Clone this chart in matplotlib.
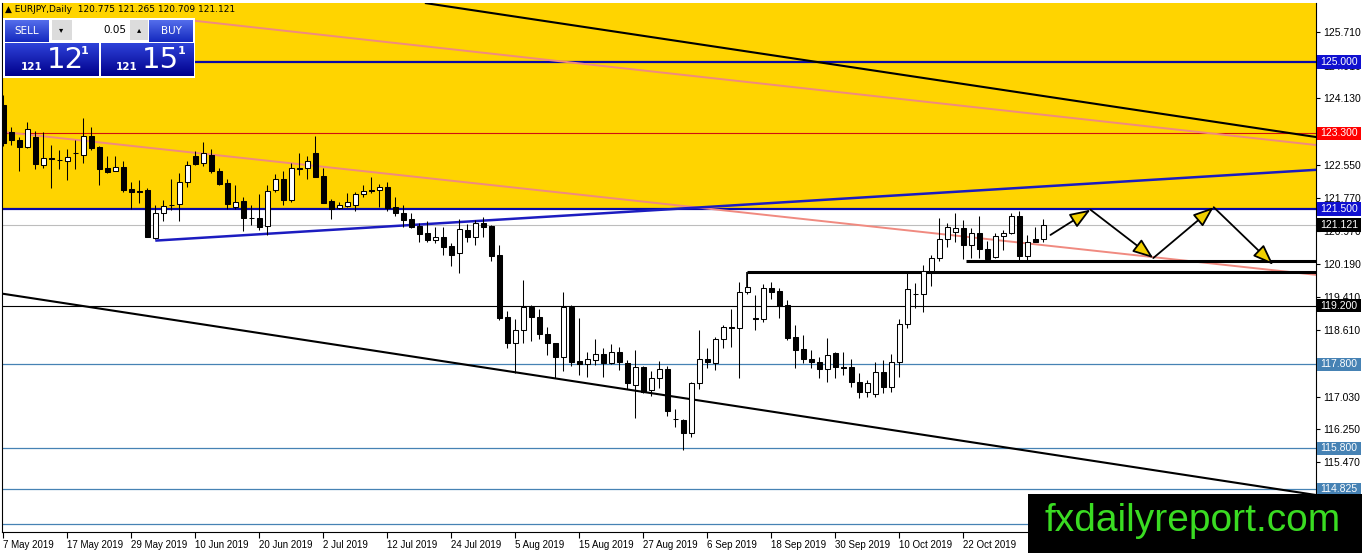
import numpy as np
import matplotlib
matplotlib.use("Agg")
import matplotlib.pyplot as plt
import matplotlib.transforms as mtransforms
from matplotlib.patches import Rectangle, FancyArrowPatch

W, H = 1362, 553

# daily candles, EURJPY, from 7 May 2019 (one entry per trading day)
opens = [123.98, 123.32, 123.14, 122.98, 123.22, 122.55, 122.70, 122.67, 122.65, 122.82,
         122.79, 123.24, 122.98, 122.47, 122.41, 122.49, 121.98, 121.92, 121.94, 120.80,
         121.40, 121.60, 121.61, 122.13, 122.76, 122.59, 122.78, 122.40, 122.11, 121.54,
         121.69, 121.29, 121.28, 121.10, 121.94, 122.21, 121.71, 122.47, 122.47, 122.83,
         122.29, 121.68, 121.51, 121.58, 121.60, 121.85, 121.94, 121.94, 122.02, 121.54,
         121.40, 121.25, 121.10, 120.92, 120.76, 120.83, 120.62, 120.44, 121.00, 120.83,
         121.16, 121.10, 120.40, 118.92, 118.30, 118.62, 119.17, 118.92, 118.52, 118.30,
         117.98, 119.17, 117.88, 117.81, 117.90, 118.04, 117.83, 118.10, 117.84, 117.31,
         117.73, 117.19, 117.47, 117.68, 116.50, 116.48, 116.17, 117.35, 117.92, 117.83,
         118.40, 118.68, 118.66, 119.52, 118.90, 118.87, 119.61, 119.55, 119.21, 118.46,
         118.16, 117.93, 117.85, 117.68, 118.06, 117.73, 117.73, 117.37, 117.14, 117.09,
         117.61, 117.27, 117.85, 118.75, 119.48, 119.47, 120.01, 120.33, 120.78, 120.94,
         121.04, 120.63, 120.92, 120.55, 120.35, 120.86, 120.92, 121.34, 120.39, 120.79,
         120.775]
highs = [124.20, 123.46, 123.22, 123.56, 123.36, 123.34, 123.02, 122.90, 122.92, 123.13,
         123.66, 123.46, 122.99, 122.76, 122.75, 122.65, 122.13, 122.19, 121.99, 121.60,
         121.71, 122.21, 122.35, 122.65, 122.87, 123.10, 122.92, 122.48, 122.21, 122.07,
         121.79, 121.59, 121.86, 122.07, 122.33, 122.39, 122.59, 122.83, 122.75, 123.24,
         122.47, 121.73, 121.67, 121.87, 121.91, 122.07, 122.25, 122.09, 122.15, 121.79,
         121.60, 121.41, 121.16, 121.20, 121.08, 121.06, 120.68, 121.25, 121.14, 121.24,
         121.30, 121.12, 120.64, 119.06, 118.87, 119.81, 119.21, 119.11, 118.68, 118.32,
         119.53, 119.21, 118.90, 118.10, 118.40, 118.20, 118.29, 118.22, 117.90, 118.14,
         117.76, 117.63, 117.89, 117.76, 116.73, 116.49, 117.39, 118.62, 118.20, 118.46,
         118.74, 119.12, 119.75, 119.97, 119.44, 119.71, 119.75, 119.61, 119.33, 118.74,
         118.50, 118.14, 117.98, 118.42, 118.10, 118.10, 117.93, 117.59, 117.43, 117.85,
         117.90, 118.04, 118.88, 119.97, 119.73, 120.17, 120.40, 121.28, 121.16, 121.40,
         121.24, 121.04, 121.32, 120.74, 120.92, 121.00, 121.40, 121.44, 120.88, 121.06,
         121.265]
lows = [123.00, 123.02, 122.41, 122.94, 122.44, 122.47, 121.99, 122.44, 122.19, 122.44,
        122.60, 122.90, 122.07, 122.35, 122.39, 121.91, 121.49, 121.63, 120.83, 120.78,
        121.22, 121.48, 121.20, 122.03, 122.55, 122.52, 122.35, 122.06, 121.49, 121.49,
        120.98, 121.12, 121.00, 120.88, 121.89, 121.59, 121.67, 122.31, 122.21, 122.26,
        121.63, 121.25, 121.49, 121.54, 121.44, 121.78, 121.87, 121.54, 121.44, 121.33,
        121.06, 121.04, 120.70, 120.70, 120.68, 120.40, 120.13, 119.97, 120.72, 120.64,
        120.83, 120.27, 118.86, 118.18, 117.59, 118.30, 118.36, 118.40, 118.02, 117.47,
        117.63, 117.75, 117.55, 117.51, 117.79, 117.51, 117.81, 117.67, 117.21, 116.52,
        117.11, 117.05, 117.23, 116.56, 116.30, 115.76, 116.06, 117.21, 117.71, 117.67,
        118.20, 118.22, 117.48, 119.47, 118.62, 118.80, 119.35, 118.90, 118.38, 117.71,
        117.83, 117.72, 117.47, 117.39, 117.47, 117.55, 117.27, 117.01, 117.03, 117.03,
        117.11, 117.15, 117.51, 118.66, 119.13, 119.05, 119.67, 120.26, 120.60, 120.72,
        120.31, 120.32, 120.32, 120.26, 120.33, 120.52, 120.90, 120.25, 120.29, 120.70,
        120.709]
closes = [123.07, 123.13, 122.98, 123.40, 122.57, 122.71, 122.69, 122.66, 122.73, 122.83,
          123.24, 122.94, 122.45, 122.38, 122.49, 121.95, 121.90, 121.91, 120.84, 121.40,
          121.58, 121.59, 122.13, 122.54, 122.57, 122.83, 122.39, 122.09, 121.61, 121.67,
          121.29, 121.28, 121.08, 121.93, 122.21, 121.71, 122.47, 122.46, 122.63, 122.27,
          121.65, 121.49, 121.59, 121.67, 121.86, 121.93, 121.93, 122.02, 121.52, 121.40,
          121.24, 121.08, 120.90, 120.76, 120.83, 120.60, 120.40, 121.02, 120.83, 121.17,
          121.08, 120.38, 118.90, 118.32, 118.62, 119.16, 118.92, 118.52, 118.32, 117.98,
          119.17, 117.86, 117.81, 117.93, 118.04, 117.83, 118.10, 117.86, 117.36, 117.73,
          117.15, 117.47, 117.68, 116.70, 116.49, 116.17, 117.35, 117.92, 117.85, 118.40,
          118.68, 118.67, 119.52, 119.63, 118.89, 119.61, 119.53, 119.19, 118.42, 118.14,
          117.92, 117.85, 117.68, 118.02, 117.73, 117.72, 117.37, 117.14, 117.35, 117.61,
          117.27, 117.85, 118.75, 119.59, 119.47, 120.01, 120.33, 120.78, 121.06, 121.04,
          120.63, 120.92, 120.55, 120.31, 120.86, 120.92, 121.34, 120.39, 120.71, 120.72,
          121.121]

date_labels = ["7 May 2019", "17 May 2019", "29 May 2019", "10 Jun 2019", "20 Jun 2019",
               "2 Jul 2019", "12 Jul 2019", "24 Jul 2019", "5 Aug 2019", "15 Aug 2019",
               "27 Aug 2019", "6 Sep 2019", "18 Sep 2019", "30 Sep 2019", "10 Oct 2019",
               "22 Oct 2019"]
# scale ticks that are not hidden behind the level labels
price_ticks = [125.710, 124.910, 124.130, 122.550, 121.770, 120.970, 120.190,
               119.410, 118.610, 117.030, 116.250, 115.470]

# horizontal levels
level_blue = [125.000, 121.500]
level_red = 123.300
level_bid = 121.121
level_black = 119.200
level_steel = [117.800, 115.800, 114.825, 114.000]
labelled_levels = [125.000, 123.300, 121.500, 121.121, 119.200, 117.800, 115.800, 114.825]

# trend lines: (bar, price) end points
channel_top = [(52.7, 126.40), (164.1, 123.21)]
channel_bottom = [(-0.04, 119.48), (164.1, 114.69)]
pink_upper = [(23.96, 125.976), (164.1, 123.02)]
pink_lower = [(-0.41, 123.34), (164.1, 119.93)]
blue_rising = [(19.0, 120.745), (164.1, 122.43)]
support_1 = [(93.0, 119.99), (164.1, 119.99)]
support_1_stub = [(93.0, 119.63), (93.0, 119.99)]
support_2 = [(120.4, 120.27), (164.1, 120.27)]

# projected zig-zag path
path_x = [130.9, 135.9, 143.75, 151.3, 158.75]
path_y = [120.88, 121.48, 120.33, 121.54, 120.17]

YELLOW = "#FFD400"
NAVY = "#0A0AA6"
STEEL = "#4682B4"
SCALE_FONT = "Liberation Sans"

fig = plt.figure(figsize=(W / 100, H / 100), dpi=100)
fig.patch.set_facecolor("white")
ax = fig.add_axes([2 / W, 21 / H, 1314 / W, 529 / H])
ax.set_xlim(-0.16, 164.09)
ax.set_ylim(113.81, 126.40)

ax.axhspan(121.5, 127, color=YELLOW, zorder=0, lw=0)

# levels
for p in level_blue:
    ax.axhline(p, color=NAVY, lw=1.6, zorder=1)
ax.axhline(level_red, color="#D01010", lw=0.8, zorder=1)
ax.axhline(level_bid, color="#BDBDBD", lw=0.8, zorder=1)
ax.axhline(level_black, color="black", lw=0.8, zorder=1)
for p in level_steel:
    ax.axhline(p, color=STEEL, lw=0.9, zorder=1)

def seg(pts, **kw):
    (x0, y0), (x1, y1) = pts
    ax.plot([x0, x1], [y0, y1], solid_capstyle="butt", **kw)

seg(pink_upper, color="#F08A80", lw=1.4, zorder=1.5)
seg(pink_lower, color="#F08A80", lw=1.4, zorder=1.5)
seg(channel_top, color="black", lw=1.5, zorder=1.6)
seg(channel_bottom, color="black", lw=1.5, zorder=1.6)
seg(blue_rising, color="#1C1CC0", lw=1.8, zorder=1.6)
seg(support_1, color="black", lw=2.2, zorder=1.7)
seg(support_1_stub, color="black", lw=1.2, zorder=1.7)
seg(support_2, color="black", lw=2.2, zorder=1.7)

# candles
o = np.array(opens)
h = np.array(highs)
l = np.array(lows)
c = np.array(closes)
x = np.arange(len(o))
up = c >= o
ax.vlines(x, l, h, color="black", lw=0.75, zorder=3)
bottom = np.minimum(o, c)
height = np.maximum(np.abs(c - o), 0.012)
ax.bar(x[up], height[up], bottom=bottom[up], width=0.62, facecolor="white",
       edgecolor="black", lw=0.75, zorder=4)
ax.bar(x[~up], height[~up], bottom=bottom[~up], width=0.62, facecolor="black",
       edgecolor="black", lw=0.75, zorder=4)

# zig-zag arrows
for i in range(len(path_x) - 1):
    arr = FancyArrowPatch((path_x[i], path_y[i]), (path_x[i + 1], path_y[i + 1]),
                          arrowstyle="-|>,head_length=0.45,head_width=0.17",
                          mutation_scale=28, facecolor="#F2D000", edgecolor="black",
                          lw=1.3, shrinkA=0, shrinkB=0, zorder=5)
    ax.add_patch(arr)

# axes look
for s in ["left", "right", "bottom"]:
    ax.spines[s].set_color("black")
    ax.spines[s].set_linewidth(0.8)
ax.spines["top"].set_visible(False)
ax.yaxis.tick_right()
ax.set_yticks(price_ticks)
ax.set_yticklabels([f"{t:.3f}" for t in price_ticks], family=SCALE_FONT)
ax.tick_params(axis="y", direction="out", length=3, width=0.8, labelsize=7.5, pad=2)
ax.set_xticks(np.arange(len(date_labels)) * 8)
ax.set_xticklabels(date_labels, ha="left", family=SCALE_FONT)
ax.tick_params(axis="x", direction="out", length=4, width=0.8, labelsize=7, pad=2)

# price label boxes on the right scale
blend = mtransforms.blended_transform_factory(ax.transAxes, ax.transData)
box_colours = {125.000: "#1010D0", 123.300: "#FF0000", 121.500: "#1010D0",
               121.121: "black", 119.200: "black", 117.800: STEEL,
               115.800: STEEL, 114.825: STEEL}
for p in labelled_levels:
    ax.add_patch(Rectangle((1.0008, p - 0.16), 0.0335, 0.32, transform=blend,
                           facecolor=box_colours[p], lw=0, clip_on=False, zorder=6))
    ax.text(1.0035, p, f"{p:.3f}", transform=blend, color="white", fontsize=7.5,
            va="center", ha="left", clip_on=False, zorder=7, family=SCALE_FONT)


def fig_rect(x0, y0, x1, y1, **kw):
    fig.add_artist(Rectangle((x0 / W, 1 - y1 / H), (x1 - x0) / W, (y1 - y0) / H,
                             transform=fig.transFigure, **kw))


def grad_box(x0, y0, x1, y1, top, bot):
    a = fig.add_axes([x0 / W, 1 - y1 / H, (x1 - x0) / W, (y1 - y0) / H])
    g = np.linspace(0, 1, 40)[:, None, None]
    img = (1 - g) * np.array(top)[None, None, :] + g * np.array(bot)[None, None, :]
    a.imshow(img, aspect="auto", extent=[0, 1, 0, 1])
    a.axis("off")
    a.set_zorder(2)
    return a


def ftext(xp, yp, s, **kw):
    fig.text(xp / W, 1 - yp / H, s, zorder=8, **kw)


# header
ftext(5, 10, "▲ EURJPY,Daily  120.775 121.265 120.709 121.121", fontsize=6.5,
      va="center", color="black")

# one-click trading panel
fig_rect(3, 18, 195, 78, facecolor="white", lw=0, zorder=1.5)
grad_box(5, 20, 49, 42, (0.33, 0.43, 0.92), (0.08, 0.16, 0.75))
grad_box(149, 20, 193, 42, (0.33, 0.43, 0.92), (0.08, 0.16, 0.75))
grad_box(5, 43, 99, 76, (0.18, 0.26, 0.85), (0.0, 0.0, 0.55))
grad_box(101, 43, 193, 76, (0.18, 0.26, 0.85), (0.0, 0.0, 0.55))
fig_rect(52, 20, 72, 40, facecolor="#DCDCDC", lw=0, zorder=3)
fig_rect(130, 20, 148, 40, facecolor="#DCDCDC", lw=0, zorder=3)
ftext(27, 31, "SELL", fontsize=7.5, color="white", ha="center", va="center")
ftext(171, 31, "BUY", fontsize=7.5, color="white", ha="center", va="center")
ftext(61, 30, "▾", fontsize=6, color="black", ha="center", va="center")
ftext(139, 30, "▴", fontsize=6, color="black", ha="center", va="center")
ftext(126, 30, "0.05", fontsize=7.5, color="black", ha="right", va="center")
ftext(32, 67, "121", fontsize=7.5, color="white", ha="center", va="center", weight="bold")
ftext(65, 60, "12", fontsize=21, color="white", ha="center", va="center")
ftext(85, 51, "1", fontsize=8, color="white", ha="center", va="center", weight="bold")
ftext(127, 67, "121", fontsize=7.5, color="white", ha="center", va="center", weight="bold")
ftext(160, 60, "15", fontsize=21, color="white", ha="center", va="center")
ftext(182, 51, "1", fontsize=8, color="white", ha="center", va="center", weight="bold")

# watermark
fig_rect(1028, 494, 1362, 553, facecolor="black", lw=0, zorder=4)
ftext(1193, 521, "fxdailyreport.com", fontsize=28, color="#3ADC22", ha="center",
      va="center", family="Liberation Sans")

fig.savefig("out.png", dpi=100)
